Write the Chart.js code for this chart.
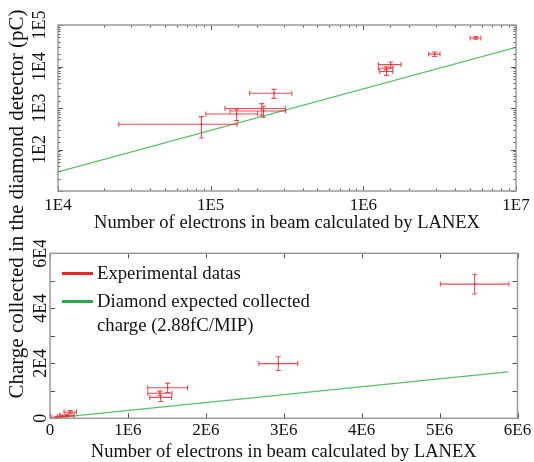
<!DOCTYPE html>
<html>
<head>
<meta charset="utf-8">
<script src="https://cdn.jsdelivr.net/npm/chart.js@4.4.0/dist/chart.umd.min.js"></script>
<style>
  html, body { margin: 0; padding: 0; background: #fff; }
  #wrap { position: relative; width: 534px; height: 462px; overflow: hidden;
          font-family: "Liberation Serif", "Times New Roman", serif; color: #111; }
  canvas { position: absolute; left: 0; }
  #topChart { top: 0; }
  #bottomChart { top: 240px; }
  #ytitle { position: absolute; left: -204px; top: 192px; width: 440px; height: 24px;
            line-height: 24px; font-size: 21px; text-align: center; white-space: nowrap;
            transform: rotate(-90deg); transform-origin: 50% 50%; }
  .legline { position: absolute; left: 62px; width: 31px; height: 3px; }
  .legtext { position: absolute; left: 97px; font-size: 18.7px; line-height: 23.7px; white-space: nowrap; }
</style>
</head>
<body>
<div id="wrap">
  <canvas id="topChart" width="534" height="240"></canvas>
  <canvas id="bottomChart" width="534" height="222"></canvas>
  <div id="ytitle">Charge collected in the diamond detector (pC)</div>
  <div class="legline" style="top:272px;background:#e8262c"></div>
  <div class="legtext" style="top:261px">Experimental datas</div>
  <div class="legline" style="top:300px;background:#2aaa48"></div>
  <div class="legtext" style="top:289px">Diamond expected collected<br>charge (2.88fC/MIP)</div>
</div>
<script>
// experimental points (electrons, pC) with symmetric error bars
const expX    = [8.7e4, 1.48e5, 2.16e5, 2.22e5, 2.6e5, 1.41e6, 1.42e6, 1.51e6, 2.93e6, 5.45e6];
const expXErr = [6.2e4, 5.5e4,  9.2e4,  8.8e4,  8.0e4, 1.55e5, 1.4e5,  2.56e5, 2.5e5,  4.4e5];
const expY    = [405,   716,    975,    848,    2260,  9100,   7600,   11100,  19900,  48800];
const expYErr = [215,   220,    300,    250,    550,   800,    1500,   1700,   2500,   3600];

// expected collected charge line (2.88 fC per MIP)
const theoryLogX = [1e4, 1e7];
const theoryLogY = [28.8, 28800];
const theoryLinX = [0, 5.88e6];
const theoryLinY = [0, 16900];

// tick labels
const topXTicks = [1e4, 1e5, 1e6, 1e7];
const topXLabels = ["1E4", "1E5", "1E6", "1E7"];
const topYTicks = [1e2, 1e3, 1e4, 1e5];
const topYLabels = ["1E2", "1E3", "1E4", "1E5"];
const botXTicks = [0, 1e6, 2e6, 3e6, 4e6, 5e6, 6e6];
const botXLabels = ["0", "1E6", "2E6", "3E6", "4E6", "5E6", "6E6"];
const botYTicks = [0, 2e4, 4e4, 6e4];
const botYLabels = ["0", "2E4", "4E4", "6E4"];

const xTitle = "Number of electrons in beam calculated by LANEX";
const red = "rgba(232, 45, 50, 0.85)";
const green = "rgba(60, 180, 75, 0.85)";
const serif = "'Liberation Serif', 'Times New Roman', serif";

function labelFor(values, labels, tol) {
    return (v) => {
        const i = values.findIndex(t => Math.abs(t - v) <= tol * Math.max(1, Math.abs(t)));
        return i >= 0 ? labels[i] : "";
    };
}

function points(xs, ys) {
    return xs.map((x, i) => ({ x: x, y: ys[i] }));
}

function isMajor(scale, v) {
    if (scale.type !== "logarithmic") return true;
    const l = Math.log10(v);
    return Math.abs(l - Math.round(l)) < 1e-6;
}

// box + inward tick marks on all four sides
const framePlugin = {
    id: "frame",
    afterDraw(chart) {
        const { ctx, chartArea: a, scales } = chart;
        ctx.save();
        ctx.strokeStyle = "#555";
        ctx.lineWidth = 1;
        ctx.beginPath();
        scales.x.ticks.forEach(t => {
            const p = Math.round(scales.x.getPixelForValue(t.value)) + 0.5;
            const len = isMajor(scales.x, t.value) ? 5 : 2.5;
            ctx.moveTo(p, a.bottom); ctx.lineTo(p, a.bottom - len);
            ctx.moveTo(p, a.top); ctx.lineTo(p, a.top + len);
        });
        scales.y.ticks.forEach(t => {
            const p = Math.round(scales.y.getPixelForValue(t.value)) + 0.5;
            const len = isMajor(scales.y, t.value) ? 5 : 2.5;
            ctx.moveTo(a.left, p); ctx.lineTo(a.left + len, p);
            ctx.moveTo(a.right, p); ctx.lineTo(a.right - len, p);
        });
        ctx.stroke();
        ctx.strokeStyle = "#9a9a9a";
        ctx.lineWidth = 1.5;
        ctx.strokeRect(a.left, a.top, a.right - a.left, a.bottom - a.top);
        ctx.restore();
    }
};

// x and y error bars for the experimental dataset
const errorBarPlugin = {
    id: "errorBars",
    afterDatasetsDraw(chart) {
        const { ctx, chartArea: a } = chart;
        const xs = chart.scales.x, ys = chart.scales.y;
        const ds = chart.data.datasets[0];
        const cap = 2.5;
        ctx.save();
        ctx.beginPath();
        ctx.rect(a.left, a.top, a.right - a.left, a.bottom - a.top);
        ctx.clip();
        ctx.strokeStyle = red;
        ctx.lineWidth = 1.1;
        ctx.beginPath();
        ds.data.forEach((pt, i) => {
            const px = xs.getPixelForValue(pt.x), py = ys.getPixelForValue(pt.y);
            const x0 = xs.getPixelForValue(pt.x - ds.errX[i]);
            const x1 = xs.getPixelForValue(pt.x + ds.errX[i]);
            const y0 = ys.getPixelForValue(pt.y - ds.errY[i]);
            const y1 = ys.getPixelForValue(pt.y + ds.errY[i]);
            ctx.moveTo(x0, py); ctx.lineTo(x1, py);
            ctx.moveTo(x0, py - cap); ctx.lineTo(x0, py + cap);
            ctx.moveTo(x1, py - cap); ctx.lineTo(x1, py + cap);
            ctx.moveTo(px, y0); ctx.lineTo(px, y1);
            ctx.moveTo(px - cap, y0); ctx.lineTo(px + cap, y0);
            ctx.moveTo(px - cap, y1); ctx.lineTo(px + cap, y1);
        });
        ctx.stroke();
        ctx.restore();
    }
};

function makeChart(id, cfg) {
    return new Chart(document.getElementById(id), {
        type: "scatter",
        data: {
            datasets: [
                {
                    label: "Experimental datas",
                    data: points(expX, expY),
                    errX: expXErr,
                    errY: expYErr,
                    pointRadius: 1,
                    pointBackgroundColor: red,
                    pointBorderWidth: 0,
                },
                {
                    label: "Diamond expected collected charge (2.88fC/MIP)",
                    data: points(cfg.lineX, cfg.lineY),
                    showLine: true,
                    borderColor: green,
                    borderWidth: 1.2,
                    pointRadius: 0,
                },
            ],
        },
        options: {
            responsive: false,
            animation: false,
            devicePixelRatio: 1,
            layout: { padding: { top: cfg.top, right: 16.5, left: 0, bottom: 0 } },
            plugins: { legend: { display: false }, tooltip: { enabled: false } },
            scales: {
                x: {
                    type: cfg.type, min: cfg.xMin, max: cfg.xMax,
                    grid: { display: false, drawTicks: false },
                    border: { display: false },
                    ticks: {
                        autoSkip: false, maxRotation: 0, padding: cfg.xPad,
                        stepSize: cfg.xStep,
                        color: "#111", font: { family: serif, size: 17 },
                        callback: labelFor(cfg.xTicks, cfg.xLabels, 1e-6),
                    },
                    title: {
                        display: true, text: xTitle, color: "#111",
                        font: { family: serif, size: 18.5 },
                        padding: { top: 0, bottom: cfg.titlePad },
                    },
                    afterFit: (s) => { s.height = cfg.xHeight; },
                },
                y: {
                    type: cfg.type, min: cfg.yMin, max: cfg.yMax,
                    grid: { display: false, drawTicks: false },
                    border: { display: false },
                    ticks: {
                        autoSkip: false, minRotation: 90, maxRotation: 90,
                        crossAlign: "center", padding: cfg.yPad,
                        stepSize: cfg.yStep,
                        color: "#111", font: { family: serif, size: 18 },
                        callback: labelFor(cfg.yTicks, cfg.yLabels, 1e-6),
                    },
                    afterFit: (s) => { s.width = cfg.yWidth; },
                },
            },
        },
        plugins: [errorBarPlugin, framePlugin],
    });
}

makeChart("topChart", {
    type: "logarithmic",
    xMin: 1e4, xMax: 1e7, yMin: 10, yMax: 1e5,
    xTicks: topXTicks, xLabels: topXLabels, yTicks: topYTicks, yLabels: topYLabels,
    lineX: theoryLogX, lineY: theoryLogY,
    top: 25, xHeight: 49, yWidth: 58, xPad: 4.3, yPad: 3.5, titlePad: 5.8,
});

makeChart("bottomChart", {
    type: "linear",
    xMin: 0, xMax: 6e6, yMin: 0, yMax: 6e4, xStep: 1e6, yStep: 1e4,
    xTicks: botXTicks, xLabels: botXLabels, yTicks: botYTicks, yLabels: botYLabels,
    lineX: theoryLinX, lineY: theoryLinY,
    top: 13.3, xHeight: 43.7, yWidth: 50, xPad: 2.2, yPad: -5.5, titlePad: -1.2,
});
</script>
</body>
</html>
